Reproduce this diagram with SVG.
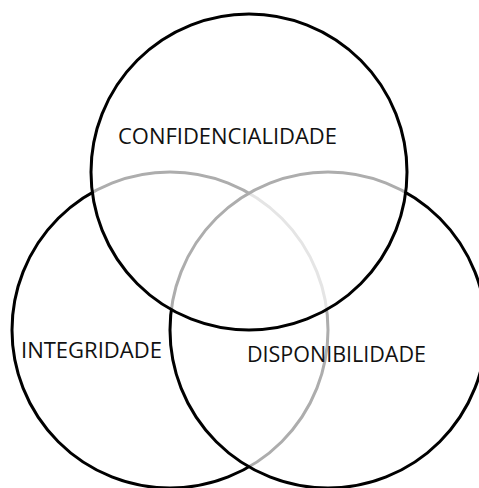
<svg xmlns="http://www.w3.org/2000/svg" width="479" height="488" viewBox="0 0 479 488">
<style>
.c{fill:#fff;fill-opacity:0.68;stroke:#000;stroke-width:3}
.t{font-family:"Open Sans","Noto Sans","DejaVu Sans",sans-serif;font-size:21px;fill:#111}
</style>
<rect width="479" height="488" fill="#fff"/>
<g id="integridade">
<circle class="c" cx="170" cy="330" r="158"/>
<text class="t" x="21" y="358" textLength="141" lengthAdjust="spacingAndGlyphs">INTEGRIDADE</text>
</g>
<g id="disponibilidade">
<circle class="c" cx="328" cy="330" r="158"/>
<text class="t" x="247" y="362" textLength="179" lengthAdjust="spacingAndGlyphs">DISPONIBILIDADE</text>
</g>
<g id="confidencialidade">
<circle class="c" cx="249" cy="172" r="158"/>
<text class="t" x="118" y="144" textLength="219" lengthAdjust="spacingAndGlyphs">CONFIDENCIALIDADE</text>
</g>
<g id="connectors"/>
</svg>
